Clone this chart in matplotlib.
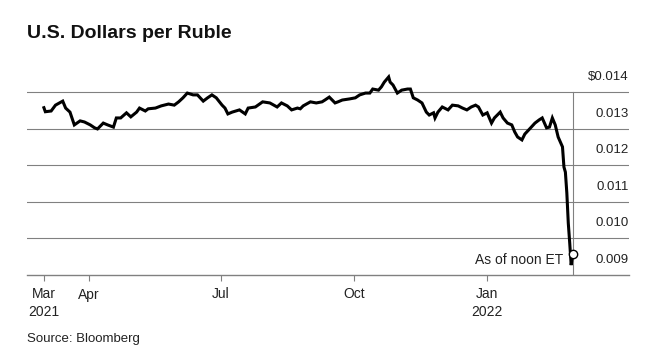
import matplotlib
matplotlib.use("Agg")
import matplotlib.pyplot as plt
import pandas as pd

# USD per RUB
dates = [
    "2021-03-01", "2021-03-02", "2021-03-06", "2021-03-09", "2021-03-14", "2021-03-16",
    "2021-03-19", "2021-03-22", "2021-03-26", "2021-03-29", "2021-04-02", "2021-04-05",
    "2021-04-07", "2021-04-11", "2021-04-14", "2021-04-18", "2021-04-20", "2021-04-23",
    "2021-04-27", "2021-04-30", "2021-05-04", "2021-05-06", "2021-05-10", "2021-05-12",
    "2021-05-17", "2021-05-21", "2021-05-26", "2021-05-30", "2021-06-02", "2021-06-05",
    "2021-06-08", "2021-06-12", "2021-06-15", "2021-06-19", "2021-06-22", "2021-06-25",
    "2021-06-28", "2021-07-02", "2021-07-04", "2021-07-06", "2021-07-09", "2021-07-14",
    "2021-07-18", "2021-07-20", "2021-07-25", "2021-07-30", "2021-08-04", "2021-08-09",
    "2021-08-12", "2021-08-16", "2021-08-19", "2021-08-23", "2021-08-25", "2021-08-27",
    "2021-09-01", "2021-09-05", "2021-09-09", "2021-09-11", "2021-09-14", "2021-09-18",
    "2021-09-20", "2021-09-23", "2021-09-28", "2021-10-02", "2021-10-05", "2021-10-09",
    "2021-10-12", "2021-10-14", "2021-10-18", "2021-10-20", "2021-10-22", "2021-10-25",
    "2021-10-26", "2021-10-28", "2021-10-31", "2021-11-03", "2021-11-07", "2021-11-09",
    "2021-11-11", "2021-11-14", "2021-11-17", "2021-11-20", "2021-11-22", "2021-11-25",
    "2021-11-26", "2021-11-28", "2021-12-01", "2021-12-05", "2021-12-08", "2021-12-12",
    "2021-12-15", "2021-12-18", "2021-12-21", "2021-12-24", "2021-12-26", "2021-12-29",
    "2022-01-01", "2022-01-04", "2022-01-06", "2022-01-10", "2022-01-12", "2022-01-15",
    "2022-01-18", "2022-01-20", "2022-01-22", "2022-01-25", "2022-01-27", "2022-01-31",
    "2022-02-03", "2022-02-06", "2022-02-08", "2022-02-11", "2022-02-13", "2022-02-15",
    "2022-02-17", "2022-02-19", "2022-02-22", "2022-02-23", "2022-02-24", "2022-02-25",
    "2022-02-26", "2022-02-27", "2022-02-28", "2022-03-01",
]
usd_per_rub = [
    0.01357, 0.01346, 0.01348, 0.01364, 0.01375, 0.01356,
    0.01345, 0.01310, 0.01321, 0.01318, 0.01310, 0.01302,
    0.01299, 0.01315, 0.01310, 0.01304, 0.01329, 0.01329,
    0.01343, 0.01332, 0.01345, 0.01356, 0.01348, 0.01354,
    0.01356, 0.01362, 0.01367, 0.01364, 0.01373, 0.01384,
    0.01397, 0.01392, 0.01392, 0.01375, 0.01384, 0.01392,
    0.01384, 0.01364, 0.01356, 0.01340, 0.01345, 0.01351,
    0.01340, 0.01356, 0.01359, 0.01373, 0.01370, 0.01359,
    0.01370, 0.01362, 0.01351, 0.01356, 0.01354, 0.01362,
    0.01373, 0.01370, 0.01373, 0.01378, 0.01386, 0.01370,
    0.01373, 0.01378, 0.01381, 0.01384, 0.01392, 0.01397,
    0.01397, 0.01408, 0.01405, 0.01414, 0.01427, 0.01441,
    0.01427, 0.01419, 0.01397, 0.01405, 0.01408, 0.01408,
    0.01384, 0.01378, 0.01370, 0.01345, 0.01337, 0.01343,
    0.01329, 0.01345, 0.01359, 0.01351, 0.01364, 0.01362,
    0.01356, 0.01351, 0.01359, 0.01364, 0.01359, 0.01337,
    0.01343, 0.01315, 0.01329, 0.01345, 0.01329, 0.01315,
    0.01310, 0.01291, 0.01277, 0.01269, 0.01285, 0.01302,
    0.01315, 0.01324, 0.01329, 0.01302, 0.01304, 0.01329,
    0.01310, 0.01277, 0.01250, 0.01195, 0.01181, 0.01124,
    0.01042, 0.00987, 0.00927, 0.00957,
]
y_ticks = [0.009, 0.010, 0.011, 0.012, 0.013, 0.014]
y_labels = ["0.009", "0.010", "0.011", "0.012", "0.013", "$0.014"]
x_ticks = ["2021-03-01", "2021-04-01", "2021-07-01", "2021-10-01", "2022-01-01"]
x_labels = ["Mar\n2021", "Apr", "Jul", "Oct", "Jan\n2022"]

plt.rcParams["font.family"] = ["Liberation Sans", "DejaVu Sans"]

x = pd.to_datetime(dates)
grid_col = "#808080"

fig = plt.figure(figsize=(6.61, 3.62), dpi=100)
ax = fig.add_axes([27 / 661, 87 / 362, 602 / 661, 205 / 362])

ax.set_xlim(pd.Timestamp("2021-02-17 08:00"), pd.Timestamp("2022-04-08 22:00"))
ax.set_ylim(0.009, 0.0146)

for v in y_ticks[1:]:
    ax.axhline(v, color=grid_col, lw=0.8, zorder=1)
for v, lab in zip(y_ticks, y_labels):
    ax.annotate(lab, xy=(1, v), xycoords=("axes fraction", "data"),
                xytext=(0, 15), textcoords="offset pixels",
                ha="right", va="center", fontsize=9.5, color="#222222")

# "now" marker line
ax.plot([x[-1], x[-1]], [0.009, 0.014], color=grid_col, lw=0.8, zorder=1)

ax.plot(x, usd_per_rub, color="black", lw=2.2, zorder=3, solid_joinstyle="miter")
ax.plot(x[-1], usd_per_rub[-1], marker="o", ms=6, mfc="white", mec="black",
        mew=1.0, zorder=4)
ax.annotate("As of noon ET", xy=(x[-1], 0.009), xytext=(-9, 15),
            textcoords="offset pixels", ha="right", va="center",
            fontsize=10, color="#222222")

for s in ["top", "right", "left"]:
    ax.spines[s].set_visible(False)
ax.spines["bottom"].set_color(grid_col)
ax.spines["bottom"].set_linewidth(1.0)
ax.set_yticks([])
ax.set_xticks(pd.to_datetime(x_ticks))
ax.set_xticklabels(x_labels, fontsize=10, color="#222222", linespacing=1.35)
ax.tick_params(axis="x", length=4, width=0.8, color=grid_col, pad=5)

fig.text(27 / 661, 1 - 34 / 362, "U.S. Dollars per Ruble", fontsize=14,
         fontweight="bold", ha="left", va="center", color="#111111")
fig.text(27 / 661, 1 - 339 / 362, "Source: Bloomberg", fontsize=9.5,
         ha="left", va="center", color="#222222")

fig.savefig("out.png", dpi=100)
